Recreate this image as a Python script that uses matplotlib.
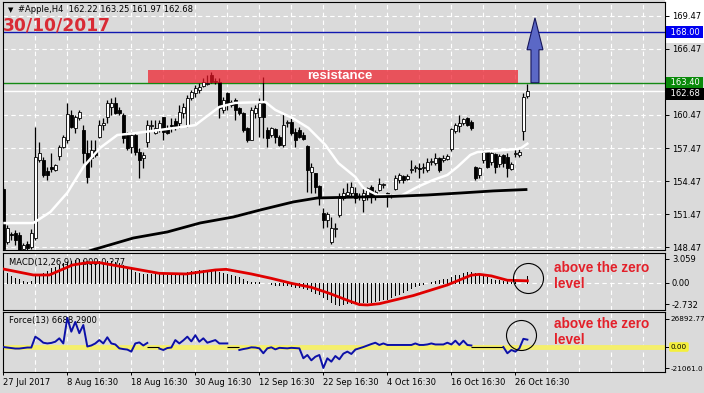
import numpy as np
import matplotlib
matplotlib.use('Agg')
import matplotlib.pyplot as plt
from matplotlib.patches import Rectangle, FancyArrow
from matplotlib.transforms import blended_transform_factory

# ---------------- data ----------------
OPEN = [153.70, 148.93, 149.60, 149.75, 149.57, 148.30, 148.75, 148.47, 149.29, 156.38,
        156.38, 155.40, 155.75, 155.48, 156.75, 157.57, 158.20, 160.48, 159.30, 160.20,
        159.11, 157.02, 156.57, 157.29, 158.48, 159.60, 160.30, 161.20, 161.57, 160.93,
        160.48, 158.66, 157.57, 158.66, 157.11, 156.57, 158.02, 159.50, 158.84, 159.11,
        160.30, 159.29, 159.50, 159.90, 159.75, 160.66, 159.57, 162.02, 162.48, 162.75,
        163.10, 163.30, 164.10, 163.60, 163.48, 160.93, 162.48, 161.66, 161.84, 161.11,
        160.66, 159.29, 158.20, 160.66, 160.30, 161.57, 159.11, 158.66, 159.20, 158.48,
        157.75, 159.70, 159.84, 158.93, 159.11, 158.66, 157.66, 155.29, 155.20, 154.02,
        151.57, 150.93, 148.93, 150.10, 151.38, 152.93, 153.20, 153.38, 153.38, 153.10,
        152.75, 153.20, 153.93, 153.02, 153.66, 154.10, 153.30, 153.10, 153.75, 154.57,
        154.93, 154.66, 155.50, 155.65, 155.60, 155.65, 155.48, 156.20, 156.10, 156.57,
        156.38, 156.48, 157.38, 159.02, 159.48, 159.75, 160.20, 159.84, 155.75, 155.02,
        156.38, 157.11, 156.20, 156.93, 156.02, 156.84, 156.66, 155.57, 156.90, 156.84,
        159.02, 162.22]
HIGH = [153.90, 150.47, 149.80, 150.02, 149.84, 148.80, 149.00, 150.10, 159.40, 158.05,
        156.66, 155.70, 157.02, 156.00, 157.75, 158.66, 161.57, 160.93, 160.50, 160.93,
        159.57, 158.20, 158.20, 158.20, 160.02, 160.20, 161.84, 162.00, 162.10, 161.20,
        160.66, 158.93, 158.93, 158.93, 157.48, 157.11, 160.02, 160.00, 160.02, 160.02,
        160.30, 159.57, 160.20, 160.20, 161.38, 161.57, 162.30, 162.75, 163.20, 163.38,
        163.80, 164.10, 164.38, 163.80, 163.84, 162.11, 162.57, 161.84, 162.02, 161.20,
        160.75, 159.38, 161.20, 161.38, 162.02, 163.93, 159.38, 159.38, 159.29, 158.66,
        160.66, 160.02, 160.20, 159.29, 159.38, 158.93, 157.75, 156.10, 155.20, 154.11,
        152.02, 151.66, 151.20, 150.66, 153.38, 153.84, 154.30, 154.38, 153.93, 153.38,
        153.93, 153.93, 154.11, 153.66, 154.75, 154.30, 153.48, 153.30, 155.02, 155.20,
        155.02, 155.10, 156.38, 155.93, 156.10, 156.10, 156.57, 156.57, 157.02, 156.66,
        156.84, 156.93, 159.29, 159.75, 160.48, 160.20, 160.30, 160.02, 155.84, 155.75,
        157.29, 157.29, 157.11, 157.02, 156.93, 156.93, 157.02, 156.20, 157.48, 157.38,
        162.48, 163.25]
LOW = [148.00, 148.75, 149.10, 148.66, 148.02, 148.10, 148.20, 148.30, 149.10, 156.20,
       154.84, 154.60, 155.30, 155.40, 156.38, 157.48, 157.93, 159.30, 158.80, 160.00,
       156.10, 154.30, 155.75, 156.66, 158.40, 159.10, 159.75, 160.48, 160.60, 160.48,
       157.93, 157.29, 157.00, 156.84, 154.75, 155.66, 157.57, 159.10, 158.75, 158.93,
       158.20, 158.75, 158.93, 159.11, 159.30, 160.20, 159.38, 161.84, 162.11, 162.48,
       163.00, 163.20, 163.38, 163.30, 160.20, 160.66, 160.93, 161.20, 160.02, 160.48,
       158.93, 158.02, 158.20, 160.20, 158.48, 158.38, 157.57, 158.48, 157.93, 157.66,
       157.57, 159.38, 158.66, 157.57, 158.38, 158.20, 153.48, 153.38, 153.38, 152.29,
       150.20, 150.29, 148.75, 149.38, 151.20, 152.75, 153.02, 153.02, 152.48, 152.75,
       151.66, 152.75, 152.48, 152.75, 153.57, 153.84, 152.10, 152.90, 153.66, 154.30,
       154.30, 154.57, 155.20, 155.30, 154.75, 155.20, 155.30, 155.93, 155.93, 155.30,
       156.20, 156.38, 157.20, 158.84, 158.93, 159.57, 159.48, 159.11, 154.57, 154.75,
       156.10, 155.66, 155.93, 155.20, 155.75, 155.75, 154.84, 155.48, 156.66, 156.66,
       158.20, 161.97]
CLOSE = [148.30, 150.20, 149.55, 149.11, 148.20, 148.66, 148.40, 149.75, 156.66, 157.05,
         155.02, 155.00, 155.60, 155.93, 157.57, 158.48, 160.57, 159.38, 160.30, 160.75,
         157.02, 154.84, 157.29, 156.84, 159.57, 159.70, 161.57, 161.57, 160.66, 160.66,
         158.38, 157.48, 158.66, 157.11, 156.38, 156.84, 159.57, 159.60, 159.29, 159.75,
         158.93, 158.84, 159.45, 159.38, 160.75, 161.20, 162.02, 162.57, 162.93, 163.00,
         163.43, 163.40, 163.48, 163.50, 161.11, 161.84, 161.57, 161.38, 160.93, 160.66,
         159.11, 158.20, 160.93, 161.11, 161.57, 160.30, 158.38, 159.29, 158.48, 157.75,
         159.57, 159.75, 158.84, 158.20, 158.48, 158.29, 155.48, 155.75, 153.93, 153.02,
         150.93, 151.48, 150.20, 150.15, 152.93, 153.38, 153.48, 153.93, 152.93, 153.00,
         153.38, 153.84, 153.02, 153.48, 154.20, 154.15, 153.25, 153.15, 154.75, 155.02,
         154.57, 154.93, 155.60, 155.70, 155.55, 155.70, 156.20, 156.25, 156.57, 155.48,
         156.57, 156.75, 159.20, 159.57, 159.75, 160.10, 159.57, 159.29, 154.75, 155.66,
         157.11, 155.75, 157.02, 155.75, 156.75, 156.11, 155.66, 156.02, 157.00, 157.11,
         162.11, 162.68]

# moving averages: vertices (bar index, price)
WHITE_MA_BARS = [0, 7.5, 11.75, 16, 20, 24.25, 28.5, 32.5, 41, 48, 53, 54, 58, 65.5, 68,
                 72.25, 76.25, 80.5, 83.75, 88, 90, 93.5, 99.25, 103.5, 107.5, 111, 113.5,
                 116.75, 118.5, 128.5, 129.5, 131.25]
WHITE_MA = [150.65, 150.65, 151.65, 153.40, 155.75, 157.50, 158.65, 158.80, 159.20, 159.55,
            160.93, 161.20, 161.57, 161.65, 160.93, 160.20, 159.30, 157.75, 156.10, 154.84,
            153.84, 153.20, 153.10, 153.93, 154.57, 155.02, 155.75, 156.84, 157.10, 157.38,
            157.48, 157.93]
BLACK_MA_BARS = [19, 22.25, 32.5, 41, 49.25, 57.5, 64.25, 72.5, 78.5, 89.25, 97.5, 106,
                 114.25, 122.5, 131]
BLACK_MA = [147.80, 148.20, 149.29, 149.84, 150.66, 151.20, 151.84, 152.57, 152.93, 153.02,
            153.07, 153.20, 153.38, 153.57, 153.70]

MACD_MAIN = [1.44, 1.23, 0.89, 0.60, 0.47, 0.30, 0.17, 0.25, 1.02, 1.15,
             1.31, 1.57, 1.87, 2.08, 2.29, 2.51, 2.71, 2.84, 2.93, 3.02,
             2.93, 2.84, 2.71, 2.67, 2.80, 2.71, 2.80, 2.84, 2.71, 2.51,
             2.29, 2.00, 1.74, 1.44, 1.23, 1.15, 1.15, 1.10, 1.15, 1.15,
             1.10, 1.06, 1.06, 1.10, 1.15, 1.23, 1.36, 1.53, 1.57, 1.65,
             1.65, 1.65, 1.65, 1.57, 1.44, 1.31, 1.15, 1.02, 0.89, 0.72,
             0.47, 0.30, 0.17, 0.17, 0.13, 0.04, -0.04, -0.17, -0.21, -0.25,
             -0.21, -0.25, -0.38, -0.47, -0.55, -0.64, -0.81, -1.02, -1.23, -1.44,
             -1.74, -2.08, -2.38, -2.68, -2.80, -2.72, -2.59, -2.50, -2.38, -2.45,
             -2.45, -2.42, -2.42, -2.34, -2.21, -2.08, -2.00, -1.78, -1.57, -1.36,
             -1.15, -0.85, -0.64, -0.42, -0.30, -0.17, 0.00, 0.13, 0.21, 0.34,
             0.47, 0.55, 0.76, 0.98, 1.06, 1.32, 1.40, 1.40, 1.32, 1.19,
             0.98, 0.76, 0.55, 0.42, 0.34, 0.25, 0.21, 0.13, 0.13, 0.04,
             0.05, 0.909]
SIGNAL_BARS = [0, 7.5, 11.5, 17.3, 21, 24, 32, 39, 45.7, 53, 55.7, 62, 67, 72, 77, 81.5,
               86, 89, 91, 94, 102.5, 111, 117, 119, 122, 126, 131]
SIGNAL = [1.78, 1.02, 1.02, 2.29, 2.59, 2.59, 1.87, 1.23, 1.15, 1.66, 1.74, 1.15, 0.59,
          -0.04, -0.55, -1.32, -2.20, -2.75, -2.80, -2.64, -1.60, -0.25, 1.00, 1.10, 0.90,
          0.35, 0.277]

# Force(13) in thousands, None where the line is not drawn
FORCE_K = [-0.5, -1, -1.5, -2, -2, -1.5, -1, -1, 9.6, 7,
           3.7, 3.0, 3.5, 4.7, 8.0, 3.0, 28, 14.5, 24, 13,
           21, 0.0, 1.0, 3.0, 6.3, 3, 9, 3, 2, -1.8,
           -2.5, -3, -5, 3, 4, 1, 3.5, None, None, -2,
           -3.4, -1.5, -1, 6.3, 3, 6, 9.6, 5, 11, 4.7,
           8, 3.7, 5, 6.3, 3, 3, 3, None, None, -3.4,
           -2.5, -1.8, -0.8, -1, -1.8, -6.6, -1.8, -0.8, -2.8, -1.3,
           -1.5, -1.8, -1.3, -1.5, -1.8, -11.5, -8.3, -13.5, -10, -8.3,
           -21, -11.5, -14.8, -9.3, -12.5, -7, -5, -7.3, -3, -1.8,
           -0.5, 1, 2.4, 3.7, 1.5, 3, 1.5, 1.5, 1.5, 1.5,
           1.5, 1.5, 1.5, 3, 1.5, 1.5, 2, 3, 2, 2,
           2, 3.7, 2, 5.7, 1.5, 5.7, 1.5, 1.0, None, None,
           None, None, None, None, None, -0.5, -6.6, -3.4, -5, -1.8,
           7.5, 6.6883]
FORCE_GAPS = [(37, 38), (57, 58), (118, 124)]

TIME_LABEL_BARS = [0, 16, 32, 48, 64, 80, 96, 112, 128]
TIME_LABELS = ['27 Jul 2017', '8 Aug 16:30', '18 Aug 16:30', '30 Aug 16:30', '12 Sep 16:30',
               '22 Sep 16:30', '4 Oct 16:30', '16 Oct 16:30', '26 Oct 16:30']
PRICE_TICKS = [148.47, 151.47, 154.47, 157.47, 160.47, 166.47, 169.47]
MACD_TICKS = [-2.732, 0.0, 3.059]
FORCE_TICKS = [-21061.0, 0.0, 26892.77]

TARGET_LEVEL = 168.00
RESIST_LEVEL = 163.40
BID = 162.68
RESIST_TOP = 164.55
RESIST_START, RESIST_END = 36.2, 128.6
ARROW_BAR, ARROW_TIP = 132.9, 169.3

# ---------------- drawing ----------------
W, H = 704, 393
BG = '#dadada'
XLIM = (-0.075, 165.4)

fig = plt.figure(figsize=(W / 100, H / 100), dpi=100, facecolor=BG)


def panel(top, bottom):
    ax = fig.add_axes([3 / W, 1 - bottom / H, 662 / W, (bottom - top) / H], facecolor=BG)
    ax.set_xlim(*XLIM)
    for s in ax.spines.values():
        s.set_color('black')
        s.set_linewidth(0.8)
    ax.yaxis.tick_right()
    ax.tick_params(axis='y', labelsize=6, length=3, width=0.7, pad=2)
    ax.tick_params(axis='x', length=0, labelbottom=False)
    for b in range(8, 165, 8):
        ax.axvline(b, color='white', lw=0.8, ls=(0, (4, 3)), zorder=0.5)
    return ax


# white patch behind the top of the price scale
fig.add_artist(Rectangle((665 / W, 1 - 43 / H), 39 / W, 43 / H, transform=fig.transFigure,
                         facecolor='white', edgecolor='none', zorder=-1))

ax = panel(2, 250)
ax.set_ylim(148.20, 170.74)
ax.set_yticks(PRICE_TICKS)
ax.set_yticklabels(['%.2f' % p for p in PRICE_TICKS])
for p in PRICE_TICKS:
    ax.axhline(p, color='white', lw=0.8, ls=(0, (4, 3)), zorder=0.5)

x = np.arange(len(OPEN))
o, h, l, c = map(np.array, (OPEN, HIGH, LOW, CLOSE))
up = c >= o
ax.vlines(x, l, h, color='black', lw=0.9, zorder=3)
ax.bar(x, np.maximum(np.abs(c - o), 0.09), bottom=np.minimum(o, c), width=0.75,
       color=np.where(up, 'white', 'black'), edgecolor='black', linewidth=0.6, zorder=4)

ax.plot(WHITE_MA_BARS, WHITE_MA, color='white', lw=1.8, zorder=5, solid_capstyle='butt')
ax.plot(BLACK_MA_BARS, BLACK_MA, color='black', lw=2.0, zorder=5, solid_capstyle='butt')

ax.axhline(TARGET_LEVEL, color='#1018b0', lw=1.0, zorder=2)
ax.axhline(RESIST_LEVEL, color='#138a13', lw=1.0, zorder=2)
ax.axhline(BID, color='white', lw=1.0, zorder=2)

ax.add_patch(Rectangle((RESIST_START, RESIST_LEVEL), RESIST_END - RESIST_START,
                       RESIST_TOP - RESIST_LEVEL, facecolor='#ef1826', alpha=0.7,
                       edgecolor='none', zorder=6))
ax.text(84, (RESIST_LEVEL + RESIST_TOP) / 2, 'resistance', color='white',
        family='Liberation Sans', weight='bold', fontsize=9.5, ha='center', va='center',
        zorder=7)
ax.add_patch(FancyArrow(ARROW_BAR, RESIST_LEVEL, 0, ARROW_TIP - RESIST_LEVEL, width=2,
                        head_width=4, head_length=2.9, length_includes_head=True,
                        facecolor='#5b68c6', edgecolor='#15155a', lw=0.8, zorder=7))

tr = blended_transform_factory(ax.transAxes, ax.transData)
for val, bg in [(TARGET_LEVEL, '#0000f0'), (RESIST_LEVEL, '#0a8a0a'), (BID, 'black')]:
    off = -0.3 if val == BID else 0
    ax.text(1.004, val + off, ' %.2f ' % val, transform=tr, color='white', fontsize=6,
            ha='left', va='center', zorder=10, clip_on=False,
            bbox=dict(facecolor=bg, edgecolor='none', pad=1.0))

fig.text(8 / W, 1 - 10 / H, '\u25bc', fontsize=5, va='center', ha='left')
fig.text(18 / W, 1 - 10 / H, '#Apple,H4  162.22 163.25 161.97 162.68', fontsize=6,
         va='center', ha='left')
fig.text(3 / W, 1 - 25 / H, '30/10/2017', color='#d92b35', fontsize=12.3, weight='bold',
         va='center', ha='left')

# MACD panel
am = panel(253, 310)
am.set_ylim(-3.44, 3.82)
am.set_yticks(MACD_TICKS)
am.set_yticklabels(['-2.732', '0.00', '3.059'])
am.axhline(0, color='white', lw=0.8, ls=(0, (4, 3)), zorder=0.5)
am.text(6 / 662, 0.84, 'MACD(12,26,9) 0.909 0.277', transform=am.transAxes, fontsize=6,
        va='center', ha='left', zorder=1)
am.vlines(x, 0, MACD_MAIN, color='black', lw=0.72, zorder=3, antialiased=False)
am.plot(SIGNAL_BARS, SIGNAL, color='#e00000', lw=2.0, zorder=4)
am.plot([131.2], [0.64], 'o', ms=21.6, mfc='none', mec='black', mew=0.8, zorder=5)

# Force panel
af = panel(312, 372)
af.set_ylim(-24900, 33700)
af.set_yticks(FORCE_TICKS)
af.set_yticklabels(['-21061.0', '0.00', '26892.77'])
af.tick_params(axis='y', labelsize=5.2, pad=1.2)
af.axhline(0, color='#f4ef6c', lw=3.5, zorder=2)
af.text(6 / 662, 0.85, 'Force(13) 6688.2900', transform=af.transAxes, fontsize=6,
        va='center', ha='left', zorder=1)
force = np.array(FORCE_K, dtype=float) * 1000
af.plot(x, force, color='#0c10a8', lw=1.4, zorder=4)
for a, b in FORCE_GAPS:
    af.hlines(0, a - 1, b + 1, color='black', lw=0.8, zorder=3)
af.plot([129.4], [11700], 'o', ms=21.6, mfc='none', mec='black', mew=0.8, zorder=5)
zl = af.get_yticklabels()[1]
zl.set_bbox(dict(facecolor='#f4ef3c', edgecolor='none', pad=0.25, boxstyle='round'))
af.set_xticks(TIME_LABEL_BARS)
af.set_xticklabels(TIME_LABELS, ha='left')
af.tick_params(axis='x', length=2, width=0.7, pad=2, labelsize=6, labelbottom=True)

for ytop in (268, 324):
    fig.text(554 / W, 1 - ytop / H, 'above the zero', color='#e3202a',
             family='Liberation Sans', weight='bold', fontsize=9.8, va='center', ha='left')
    fig.text(554 / W, 1 - (ytop + 16) / H, 'level', color='#e3202a',
             family='Liberation Sans', weight='bold', fontsize=9.8, va='center', ha='left')

fig.savefig('out.png', dpi=100, facecolor=BG)
